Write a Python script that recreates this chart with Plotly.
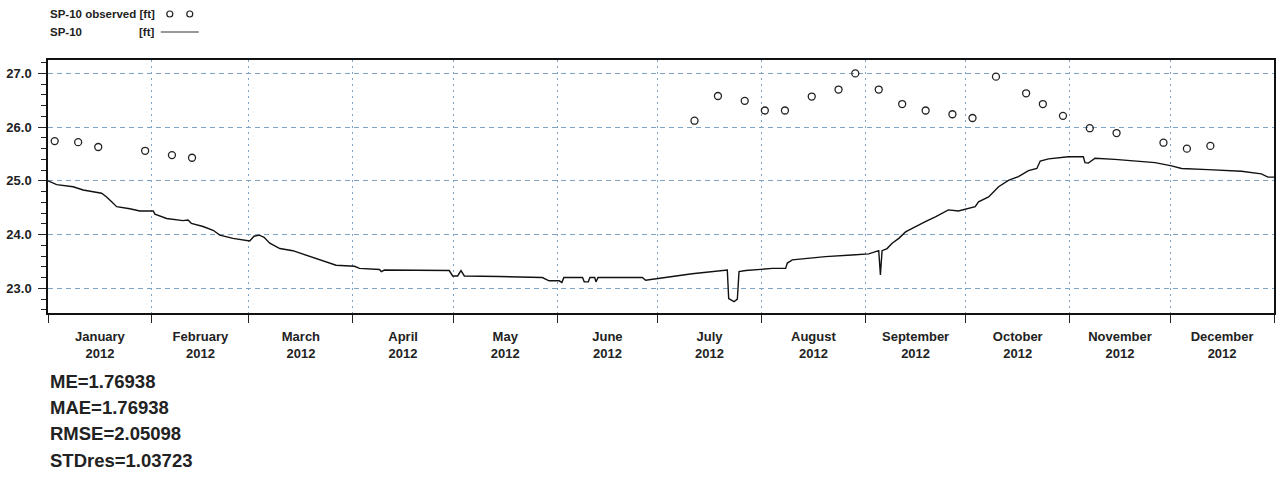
import plotly.graph_objects as go

# ---------------- data ----------------
obs_dates = ["2012-01-03", "2012-01-10", "2012-01-16", "2012-01-30", "2012-02-07", "2012-02-13",
             "2012-07-12", "2012-07-19", "2012-07-27", "2012-08-02", "2012-08-08", "2012-08-16",
             "2012-08-24", "2012-08-29", "2012-09-05", "2012-09-12", "2012-09-19", "2012-09-27",
             "2012-10-03", "2012-10-10", "2012-10-19", "2012-10-24", "2012-10-30", "2012-11-07",
             "2012-11-15", "2012-11-29", "2012-12-06", "2012-12-13"]
obs_values = [25.74, 25.72, 25.63, 25.56, 25.48, 25.43,
              26.12, 26.58, 26.49, 26.31, 26.31, 26.57,
              26.70, 27.00, 26.70, 26.43, 26.31, 26.24,
              26.17, 26.94, 26.63, 26.43, 26.21, 25.98,
              25.89, 25.71, 25.60, 25.65]

sim_dates = ["2012-01-01 00:00", "2012-01-03 14:00", "2012-01-08 12:00", "2012-01-11 12:00", "2012-01-17 00:00",
             "2012-01-18 12:00", "2012-01-20 00:00", "2012-01-21 12:00", "2012-01-25 10:00", "2012-01-28 10:00",
             "2012-02-01 10:00", "2012-02-01 22:00", "2012-02-05 10:00", "2012-02-10 07:00", "2012-02-11 19:00",
             "2012-02-12 19:00", "2012-02-16 07:00", "2012-02-19 07:00", "2012-02-21 07:00", "2012-02-25 05:00",
             "2012-03-01 05:00", "2012-03-02 12:00", "2012-03-04 02:00", "2012-03-05 12:00", "2012-03-07 05:00",
             "2012-03-10 05:00", "2012-03-14 02:00", "2012-03-18 02:00", "2012-03-21 02:00", "2012-03-24 02:00",
             "2012-03-27 00:00", "2012-04-01 12:00", "2012-04-03 00:00", "2012-04-09 00:00", "2012-04-09 12:00",
             "2012-04-10 10:00", "2012-04-17 00:00", "2012-04-29 19:00", "2012-04-30 19:00", "2012-05-02 07:00",
             "2012-05-03 07:00", "2012-05-04 07:00", "2012-05-14 17:00", "2012-05-27 14:00", "2012-05-29 14:00",
             "2012-06-01 14:00", "2012-06-02 10:00", "2012-06-03 00:00", "2012-06-08 14:00", "2012-06-09 02:00",
             "2012-06-10 07:00", "2012-06-10 19:00", "2012-06-12 05:00", "2012-06-12 14:00", "2012-06-13 05:00",
             "2012-06-26 10:00", "2012-06-27 10:00", "2012-07-01 10:00", "2012-07-05 10:00", "2012-07-11 07:00",
             "2012-07-21 19:00", "2012-07-22 05:00", "2012-07-23 19:00", "2012-07-24 19:00", "2012-07-25 07:00",
             "2012-07-27 07:00", "2012-07-31 05:00", "2012-08-04 05:00", "2012-08-08 05:00", "2012-08-08 17:00",
             "2012-08-10 05:00", "2012-08-14 05:00", "2012-08-20 02:00", "2012-08-28 00:00", "2012-09-02 00:00",
             "2012-09-05 00:00", "2012-09-05 12:00", "2012-09-06 00:00", "2012-09-07 12:00", "2012-09-09 00:00",
             "2012-09-11 00:00", "2012-09-13 00:00", "2012-09-15 22:00", "2012-09-18 22:00", "2012-09-21 22:00",
             "2012-09-25 19:00", "2012-09-28 19:00", "2012-10-01 19:00", "2012-10-03 19:00", "2012-10-04 19:00",
             "2012-10-07 19:00", "2012-10-10 19:00", "2012-10-13 17:00", "2012-10-16 17:00", "2012-10-19 17:00",
             "2012-10-22 05:00", "2012-10-23 05:00", "2012-10-25 17:00", "2012-10-31 14:00", "2012-11-05 02:00",
             "2012-11-05 14:00", "2012-11-06 14:00", "2012-11-08 14:00", "2012-11-14 12:00", "2012-11-20 12:00",
             "2012-11-26 12:00", "2012-12-01 10:00", "2012-12-04 10:00", "2012-12-12 07:00", "2012-12-22 07:00",
             "2012-12-28 05:00", "2012-12-30 05:00", "2013-01-01 00:00"]
sim_values = [25.00, 24.93, 24.89, 24.83, 24.77,
              24.70, 24.61, 24.52, 24.48, 24.44,
              24.44, 24.38, 24.30, 24.26, 24.27,
              24.21, 24.15, 24.08, 23.99, 23.93,
              23.88, 23.97, 23.99, 23.95, 23.84,
              23.74, 23.70, 23.62, 23.55, 23.50,
              23.43, 23.41, 23.37, 23.35, 23.31,
              23.34, 23.34, 23.33, 23.23, 23.23,
              23.33, 23.23, 23.22, 23.20, 23.14,
              23.14, 23.11, 23.20, 23.20, 23.12,
              23.12, 23.20, 23.20, 23.12, 23.20,
              23.20, 23.15, 23.18, 23.22, 23.27,
              23.34, 22.81, 22.75, 22.80, 23.31,
              23.33, 23.35, 23.37, 23.37, 23.47,
              23.53, 23.56, 23.59, 23.62, 23.64,
              23.70, 23.25, 23.70, 23.74, 23.84,
              23.93, 24.05, 24.15, 24.24, 24.33,
              24.46, 24.44, 24.49, 24.52, 24.61,
              24.70, 24.89, 25.01, 25.08, 25.19,
              25.23, 25.37, 25.41, 25.45, 25.45,
              25.34, 25.33, 25.42, 25.40, 25.37,
              25.34, 25.28, 25.23, 25.21, 25.18,
              25.13, 25.07, 25.07]

legend_obs = "SP-10 observed [ft]"
legend_sim_name = "SP-10"
legend_unit = "[ft]"
stats_lines = ["ME=1.76938", "MAE=1.76938", "RMSE=2.05098", "STDres=1.03723"]

# ---------------- figure ----------------
W, H = 1278, 478
ML, MR, MT, MB = 48, 2, 60, 165
PW, PH = W - ML - MR, H - MT - MB

def px(x):
    return (x - ML) / PW

def py(y):
    return (H - MB - y) / PH

FONT = "Liberation Sans, Arial, sans-serif"
TXT = "#222222"
GRID = "#7fa3c4"

fig = go.Figure()
fig.add_trace(go.Scatter(x=sim_dates, y=sim_values, mode="lines",
                         line=dict(color="#111111", width=1.4), name="SP-10 [ft]"))
fig.add_trace(go.Scatter(x=obs_dates, y=obs_values, mode="markers",
                         marker=dict(symbol="circle-open", size=7, color="#222222",
                                     line=dict(width=1.3, color="#222222")),
                         name="SP-10 observed [ft]"))

fig.update_layout(
    width=W, height=H, autosize=False,
    margin=dict(l=ML, r=MR, t=MT, b=MB, pad=0),
    paper_bgcolor="white", plot_bgcolor="white",
    showlegend=False,
    font=dict(family=FONT, color=TXT),
)

fig.update_xaxes(
    type="date", range=["2012-01-01", "2013-01-01"],
    tick0="2012-01-01", dtick="M1", ticklabelmode="period",
    tickformat="%B<br>%Y",
    ticks="outside", ticklen=8, tickwidth=1, tickcolor="#222",
    tickfont=dict(family=FONT, size=13, color=TXT, weight="bold"),
    ticklabelstandoff=3,
    showgrid=True, gridcolor=GRID, gridwidth=1.2, griddash="2px,4px",
    showline=True, linecolor="#111", linewidth=1.5, mirror=True,
    zeroline=False,
)
fig.update_yaxes(
    range=[22.54, 27.25],
    tick0=23, dtick=1, tickformat=".1f",
    ticks="outside", ticklen=8, tickwidth=1, tickcolor="#222",
    tickfont=dict(family=FONT, size=13, color=TXT, weight="bold"),
    ticklabelstandoff=4,
    minor=dict(tick0=23, dtick=0.2, ticks="outside", ticklen=5, tickcolor="#222", showgrid=False),
    showgrid=True, gridcolor=GRID, gridwidth=1.2, griddash="5px,4px",
    showline=True, linecolor="#111", linewidth=1.5, mirror=True,
    zeroline=False,
)

# legend (drawn manually, like the original)
fig.add_annotation(xref="paper", yref="paper", x=px(48), y=py(14), xanchor="left", yanchor="middle",
                   text=legend_obs, showarrow=False,
                   font=dict(family=FONT, size=11.5, color=TXT, weight="bold"))
fig.add_annotation(xref="paper", yref="paper", x=px(48), y=py(32), xanchor="left", yanchor="middle",
                   text=legend_sim_name, showarrow=False,
                   font=dict(family=FONT, size=11.5, color=TXT, weight="bold"))
fig.add_annotation(xref="paper", yref="paper", x=px(137), y=py(32), xanchor="left", yanchor="middle",
                   text=legend_unit, showarrow=False,
                   font=dict(family=FONT, size=11.5, color=TXT, weight="bold"))
for cx in (170, 190):
    fig.add_shape(type="circle", xref="paper", yref="paper",
                  x0=px(cx - 3), x1=px(cx + 3), y0=py(14 + 3), y1=py(14 - 3),
                  line=dict(color="#222", width=1.2))
fig.add_shape(type="line", xref="paper", yref="paper",
              x0=px(161), x1=px(199), y0=py(32), y1=py(32),
              line=dict(color="#333", width=1.2))

# statistics text
for i, s in enumerate(stats_lines):
    fig.add_annotation(xref="paper", yref="paper", x=px(48), y=py(381.5 + 26.2 * i),
                       xanchor="left", yanchor="middle", text=s, showarrow=False,
                       font=dict(family=FONT, size=18.5, color=TXT, weight="bold"))

fig.write_html("out.html", config={"displayModeBar": False},
               post_script="document.body.style.margin='0';")
